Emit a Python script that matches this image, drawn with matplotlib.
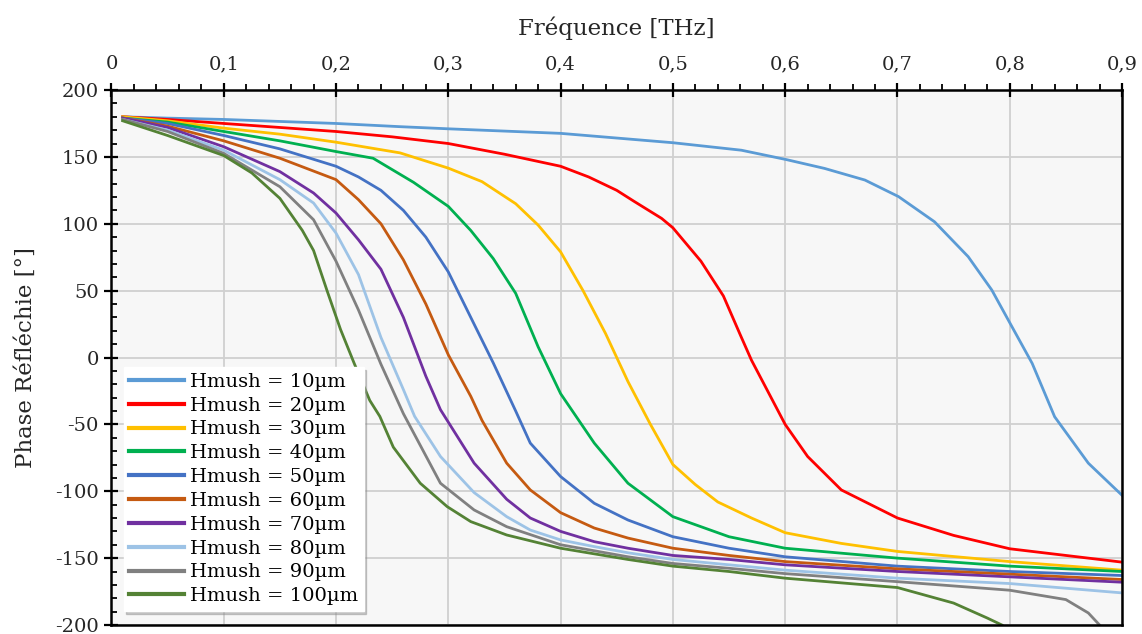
import matplotlib.pyplot as plt
from matplotlib.ticker import MultipleLocator

plt.rcParams['font.family'] = ['DejaVu Serif']

# fréquences (THz) et phases (°)
f10 = [0.01, 0.05, 0.1, 0.2, 0.257, 0.3, 0.4, 0.5, 0.561, 0.601, 0.635, 0.671, 0.701, 0.733, 0.763, 0.784, 0.802, 0.82, 0.84, 0.87, 0.9]
p10 = [180, 179, 178, 175, 172.6, 171, 167.6, 160.6, 155, 148, 141.4, 132.7, 120.3, 101.5, 75.4, 50.5, 23, -4.4, -44.3, -79, -103]

f20 = [0.01, 0.05, 0.1, 0.15, 0.2, 0.25, 0.3, 0.35, 0.4, 0.425, 0.45, 0.465, 0.49, 0.5, 0.525, 0.545, 0.56, 0.57, 0.58, 0.6, 0.62, 0.65, 0.7, 0.75, 0.8, 0.85, 0.9]
p20 = [180, 178, 175, 172, 169, 165, 160, 152, 143, 135, 125, 117, 104, 97, 72, 46, 17, -2, -18, -50, -74, -99, -120, -133, -143, -148, -153]

f30 = [0.01, 0.05, 0.1, 0.15, 0.2, 0.257, 0.3, 0.33, 0.36, 0.38, 0.4, 0.42, 0.44, 0.46, 0.48, 0.5, 0.52, 0.54, 0.57, 0.6, 0.65, 0.7, 0.8, 0.9]
p30 = [180, 177, 171.5, 167, 161, 153, 141.6, 131.5, 115, 99, 79, 50, 18, -18, -50, -80, -95, -108, -120, -131, -139, -145, -152.6, -159]

f40 = [0.01, 0.05, 0.1, 0.15, 0.2, 0.233, 0.269, 0.3, 0.32, 0.34, 0.36, 0.38, 0.4, 0.43, 0.46, 0.5, 0.55, 0.6, 0.7, 0.8, 0.9]
p40 = [179, 176, 169, 162, 154, 149, 131, 113, 95, 74, 48, 8, -27, -64, -94, -119, -134, -142.6, -150, -156, -160]

f50 = [0.01, 0.05, 0.1, 0.15, 0.2, 0.22, 0.24, 0.26, 0.28, 0.3, 0.32, 0.34, 0.36, 0.373, 0.4, 0.43, 0.46, 0.5, 0.55, 0.6, 0.7, 0.8, 0.9]
p50 = [179, 175, 166, 156, 143, 135, 125, 110, 90, 64, 30, -4, -40, -64, -89, -109, -121.5, -134, -142.6, -149, -156, -160, -163]

f60 = [0.01, 0.05, 0.1, 0.15, 0.2, 0.22, 0.24, 0.26, 0.28, 0.3, 0.32, 0.33, 0.352, 0.373, 0.4, 0.43, 0.46, 0.5, 0.55, 0.6, 0.7, 0.8, 0.9]
p60 = [179, 173, 162, 149, 133, 118, 100, 73, 40, 2, -29, -47, -79, -99, -116, -127.5, -135, -142.6, -148, -152.6, -158, -162, -166]

f70 = [0.01, 0.05, 0.1, 0.15, 0.18, 0.2, 0.22, 0.24, 0.26, 0.28, 0.293, 0.323, 0.352, 0.373, 0.4, 0.43, 0.46, 0.5, 0.55, 0.6, 0.7, 0.8, 0.9]
p70 = [179, 172, 157.6, 139, 123, 108, 88, 66, 30, -14, -39, -79, -106, -120, -130, -137.7, -142.6, -148, -151, -155, -160, -164, -168]

f80 = [0.01, 0.05, 0.1, 0.15, 0.18, 0.2, 0.22, 0.24, 0.26, 0.27, 0.293, 0.323, 0.352, 0.373, 0.4, 0.43, 0.46, 0.5, 0.55, 0.6, 0.7, 0.8, 0.9]
p80 = [178, 170, 155, 133, 115.5, 93, 62, 15, -24, -44, -74, -101, -119, -129, -136.4, -141.4, -146, -151, -155, -159, -165, -169, -176]

f90 = [0.01, 0.05, 0.1, 0.15, 0.18, 0.2, 0.22, 0.24, 0.26, 0.293, 0.323, 0.352, 0.4, 0.46, 0.5, 0.55, 0.6, 0.7, 0.8, 0.85, 0.87, 0.88]
p90 = [178, 169, 152.6, 127.7, 103, 72, 35.5, -5, -42, -94, -114, -126.5, -140, -149, -154, -157.6, -161.6, -167.6, -174, -181, -191, -200]

f100 = [0.01, 0.05, 0.1, 0.125, 0.15, 0.17, 0.18, 0.192, 0.204, 0.216, 0.23, 0.239, 0.251, 0.275, 0.299, 0.32, 0.352, 0.4, 0.46, 0.5, 0.55, 0.6, 0.7, 0.75, 0.78, 0.793]
p100 = [177, 166, 151, 138, 119, 95, 80, 50, 21, -4, -32, -44, -67, -94, -111.5, -122.7, -132.7, -142.6, -151, -156, -160, -165, -172, -183.6, -194.8, -200]

freqs = [f10, f20, f30, f40, f50, f60, f70, f80, f90, f100]
phases = [p10, p20, p30, p40, p50, p60, p70, p80, p90, p100]
hmush = [10, 20, 30, 40, 50, 60, 70, 80, 90, 100]
couleurs = ['#5B9BD5', '#FF0000', '#FFC000', '#00B050', '#4472C4',
            '#C55A11', '#7030A0', '#9DC3E6', '#808080', '#548235']

xticks = [0, 0.1, 0.2, 0.3, 0.4, 0.5, 0.6, 0.7, 0.8, 0.9]
yticks = [-200, -150, -100, -50, 0, 50, 100, 150, 200]

fig = plt.figure(figsize=(11.42, 6.34), dpi=100)
ax = fig.add_axes([0.0976, 0.0142, 0.8849, 0.8438])
ax.set_facecolor('#f7f7f7')

for f, p, h, c in zip(freqs, phases, hmush, couleurs):
    ax.plot(f, p, color=c, lw=2.0, label=f"Hmush = {h}µm")

ax.set_xlim(0, 0.9)
ax.set_ylim(-200, 200)

# axe des x en haut, virgule décimale
ax.xaxis.tick_top()
ax.xaxis.set_label_position('top')
ax.set_xticks(xticks)
ax.set_xticklabels(['0'] + [f"{t:.1f}".replace('.', ',') for t in xticks[1:]])
ax.set_yticks(yticks)
ax.set_yticklabels([str(t) for t in yticks])
ax.xaxis.set_minor_locator(MultipleLocator(0.02))
ax.yaxis.set_minor_locator(MultipleLocator(10))

ax.tick_params(axis='both', which='major', direction='inout', length=10, width=1.6,
               labelsize=14, color='black', labelcolor='#262626', pad=4)
ax.tick_params(axis='x', which='minor', direction='out', length=4, width=1.3, top=True, bottom=False)
ax.tick_params(axis='y', which='minor', direction='in', length=4, width=1.3)
ax.tick_params(axis='x', which='major', pad=7)

for s in ax.spines.values():
    s.set_linewidth(1.8)
    s.set_color('black')

ax.grid(True, which='major', color='#d0d0d0', lw=1.3)
ax.set_axisbelow(True)

ax.set_xlabel('Fréquence [THz]', fontsize=16.5, labelpad=15, color='#262626')
ax.set_ylabel('Phase Réfléchie [°]', fontsize=16.5, labelpad=13, color='#262626')

leg = ax.legend(loc='lower left', bbox_to_anchor=(0.012, 0.026), borderaxespad=0,
                fontsize=14, frameon=True, fancybox=False,
                shadow={'color': '0.55', 'alpha': 0.45},
                handlelength=2.8, labelspacing=0.3, handletextpad=0.3,
                borderpad=0.3)
leg.get_frame().set_edgecolor('white')
leg.get_frame().set_facecolor('white')
leg.get_frame().set_alpha(1)
for line in leg.get_lines():
    line.set_linewidth(3)

fig.savefig('out.png', dpi=100)
